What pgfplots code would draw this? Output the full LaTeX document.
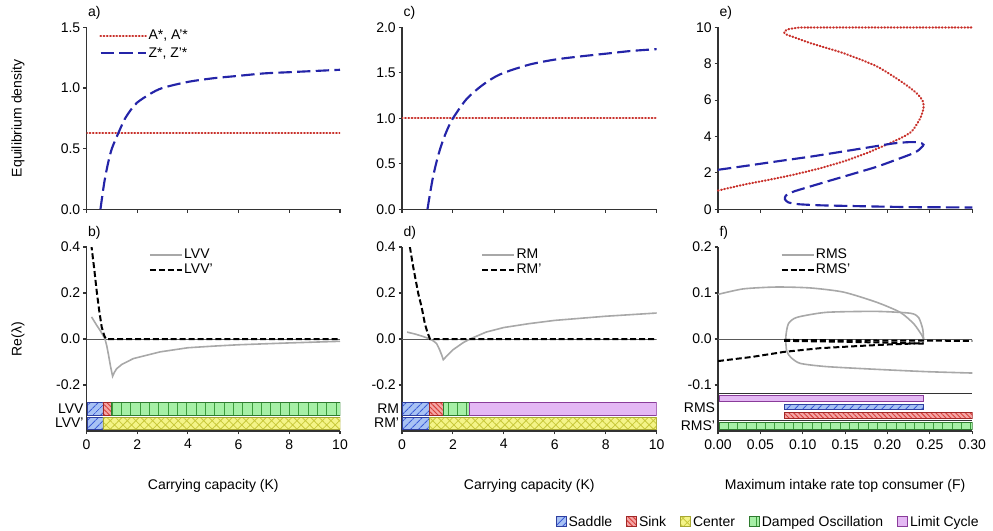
\documentclass[border=0pt]{standalone}
\usepackage{fontspec}
\setmainfont{Liberation Sans}
\usepackage{pgfplots}
\pgfplotsset{compat=1.18}
\usetikzlibrary{patterns.meta}

\definecolor{cSadF}{HTML}{A8C2F4}
\definecolor{cSadL}{HTML}{3F5FD8}
\definecolor{cSadD}{HTML}{2F3F9F}
\definecolor{cSinF}{HTML}{F4A6A6}
\definecolor{cSinL}{HTML}{D8403A}
\definecolor{cSinD}{HTML}{A02828}
\definecolor{cCenF}{HTML}{F4F488}
\definecolor{cCenL}{HTML}{C8C83A}
\definecolor{cCenD}{HTML}{A8A832}
\definecolor{cDamF}{HTML}{A6EFA6}
\definecolor{cDamL}{HTML}{3C9C3C}
\definecolor{cDamD}{HTML}{2E7A2E}
\definecolor{cLimF}{HTML}{E4B8F4}
\definecolor{cLimD}{HTML}{8A3C9A}
\definecolor{cRed}{HTML}{C8302A}
\definecolor{cBlue}{HTML}{2424A8}
\definecolor{cGray}{HTML}{A8A8A8}

\tikzset{
  bsaddle/.style={fill=cSadF, draw=cSadD, line width=0.6pt,
    postaction={pattern={Lines[angle=45,distance=4pt,line width=0.8pt]}, pattern color=cSadL, draw=cSadD, line width=0.6pt}},
  bsink/.style={fill=cSinF, draw=cSinD, line width=0.6pt,
    postaction={pattern={Lines[angle=-45,distance=2.6pt,line width=0.7pt]}, pattern color=cSinL, draw=cSinD, line width=0.6pt}},
  bcenter/.style={fill=cCenF, draw=cCenD, line width=0.6pt,
    postaction={pattern={Hatch[angle=45,distance=4.5pt,line width=0.6pt]}, pattern color=cCenL, draw=cCenD, line width=0.6pt}},
  bdamped/.style={fill=cDamF, draw=cDamD, line width=0.6pt,
    postaction={pattern={Lines[angle=90,distance=7pt,line width=0.6pt]}, pattern color=cDamL, draw=cDamD, line width=0.6pt}},
  blimit/.style={fill=cLimF, draw=cLimD, line width=0.7pt},
  reddot/.style={cRed, line width=1.6pt, line cap=round, dash pattern=on 0.5pt off 1.9pt},
  bluedash/.style={cBlue, line width=1.6pt, dash pattern=on 10pt off 4pt},
  graysolid/.style={cGray, line width=1.2pt},
  blackdash/.style={black, line width=1.5pt, dash pattern=on 4.5pt off 2.2pt},
  zeroline/.style={black!65, line width=0.7pt},
  sepline/.style={black!80, line width=0.6pt},
}

\pgfplotsset{
  panel/.style={
    scale only axis,
    anchor=south west,
    axis x line*=bottom, axis y line*=left,
    axis line style={draw=black!80, line width=0.8pt},
    tick style={draw=black!80, line width=0.8pt},
    tick align=outside,
    major tick length=2.5pt,
    /pgf/number format/assume math mode=true,
    no markers,
    title style={at={(rel axis cs:0,1)}, anchor=south west, inner sep=0pt, yshift=-0.3pt, xshift=1pt},
    every axis y label/.style={at={(axis description cs:-0.27,0.5)}, rotate=90, anchor=center},
    every axis x label/.style={at={(axis description cs:0.5,-0.299)}, anchor=center},
    legend style={draw=none, fill=none, inner sep=0pt, row sep=0pt,
      nodes={inner sep=1pt, text height=7.5pt, text depth=2pt}},
    legend cell align=left,
    yticklabel style={inner xsep=2pt},
  },
  toppanel/.style={panel, height=136.5pt, xticklabels={}},
  botpanel/.style={panel, height=138pt},
  onedec/.style={yticklabel style={/pgf/number format/fixed, /pgf/number format/fixed zerofill, /pgf/number format/precision=1}},
}

\begin{document}
\fontsize{10.5}{12.6}\selectfont
\begin{tikzpicture}[font=\fontsize{10.5}{12.6}\selectfont]
\useasboundingbox (0,0) rectangle (744.75pt,-398.25pt);

% ---------------- a)
\begin{axis}[toppanel, onedec, at={(64.875pt,-156.975pt)}, width=190.125pt,
  xmin=0, xmax=10, ymin=0, ymax=1.5, xtick={0,2,4,6,8,10}, ytick={0,0.5,1,1.5},
  ylabel={Equilibrium density}, title={a)},
  legend style={at={(0.05,1.0)}, anchor=north west, nodes={text height=8pt, text depth=2.5pt, inner sep=1.2pt}},
  legend image code/.code={\draw[#1] (0pt,0pt) -- (34pt,0pt);}]
\addplot[reddot] coordinates {(0,0.627) (10,0.627)};
\addlegendentry{A*, A'*}
\addplot[bluedash, smooth] coordinates {(0.55,0) (0.7,0.22) (0.85,0.38) (1.0,0.50) (1.25,0.625) (1.5,0.74) (1.75,0.82) (2,0.88) (2.5,0.95) (3,1.0) (4,1.05) (5,1.08) (6,1.10) (7,1.12) (8,1.13) (9,1.14) (10,1.15)};
\addlegendentry{Z*, Z'*}
\end{axis}

% ---------------- b)
\begin{axis}[botpanel, onedec, at={(64.875pt,-323.25pt)}, width=190.125pt,
  xmin=0, xmax=10, ymin=-0.4, ymax=0.4, xtick={0,2,4,6,8,10}, ytick={-0.2,0,0.2,0.4},
  extra y ticks={-0.305,-0.366}, extra y tick labels={LVV,LVV'},
  extra y tick style={major tick length=0pt},
  ylabel={Re(λ)}, xlabel={Carrying capacity (K)}, title={b)},
  legend style={at={(0.245,1.0)}, anchor=north west},
  legend image code/.code={\draw[#1] (0pt,0pt) -- (24pt,0pt);}]
\addplot[zeroline, forget plot] coordinates {(0,0) (10,0)};
\addplot[bsaddle, forget plot] coordinates {(0.03,-0.274) (0.65,-0.274) (0.65,-0.334) (0.03,-0.334) (0.03,-0.274)};
\addplot[bsink, forget plot] coordinates {(0.65,-0.274) (1.0,-0.274) (1.0,-0.334) (0.65,-0.334) (0.65,-0.274)};
\addplot[bdamped, forget plot] coordinates {(1.0,-0.274) (10,-0.274) (10,-0.334) (1.0,-0.334) (1.0,-0.274)};
\addplot[bsaddle, forget plot] coordinates {(0.03,-0.340) (0.65,-0.340) (0.65,-0.392) (0.03,-0.392) (0.03,-0.340)};
\addplot[bcenter, forget plot] coordinates {(0.65,-0.340) (10,-0.340) (10,-0.392) (0.65,-0.392) (0.65,-0.340)};
\addplot[graysolid] coordinates {(0.2,0.096) (0.4,0.06) (0.55,0.035) (0.65,0.016) (0.73,0) (0.8,-0.03) (0.86,-0.064) (0.95,-0.12) (1.03,-0.162) (1.1,-0.145) (1.19,-0.129) (1.4,-0.11) (1.85,-0.085) (2.9,-0.056) (4,-0.038) (5,-0.031) (6,-0.025) (8,-0.017) (10,-0.01)};
\addlegendentry{LVV}
\addplot[blackdash] coordinates {(0.15,0.45) (0.2,0.4) (0.31,0.3) (0.4,0.21) (0.5,0.125) (0.6,0.052) (0.7,0.015) (0.77,0) (1.0,-0.001) (10,-0.001)};
\addlegendentry{LVV'}
\end{axis}

% ---------------- c)
\begin{axis}[toppanel, onedec, at={(301.5pt,-156.975pt)}, width=191pt,
  xmin=0, xmax=10, ymin=0, ymax=2, xtick={0,2,4,6,8,10}, ytick={0,0.5,1,1.5,2},
  title={c)}]
\addplot[reddot] coordinates {(0,1) (10,1)};
\addplot[bluedash, smooth] coordinates {(1.0,0) (1.2,0.33) (1.4,0.57) (1.6,0.75) (1.8,0.89) (2,1.0) (2.5,1.2) (3,1.33) (3.5,1.43) (4,1.5) (5,1.59) (6,1.645) (7,1.68) (8,1.71) (9,1.74) (10,1.76)};
\end{axis}

% ---------------- d)
\begin{axis}[botpanel, onedec, at={(301.5pt,-323.25pt)}, width=191pt,
  xmin=0, xmax=10, ymin=-0.4, ymax=0.4, xtick={0,2,4,6,8,10}, ytick={-0.2,0,0.2,0.4},
  extra y ticks={-0.305,-0.366}, extra y tick labels={RM,RM'},
  extra y tick style={major tick length=0pt},
  xlabel={Carrying capacity (K)}, title={d)},
  legend style={at={(0.31,1.0)}, anchor=north west},
  legend image code/.code={\draw[#1] (0pt,0pt) -- (24pt,0pt);}]
\addplot[zeroline, forget plot] coordinates {(0,0) (10,0)};
\addplot[bsaddle, forget plot] coordinates {(0.03,-0.274) (1.07,-0.274) (1.07,-0.334) (0.03,-0.334) (0.03,-0.274)};
\addplot[bsink, forget plot] coordinates {(1.07,-0.274) (1.63,-0.274) (1.63,-0.334) (1.07,-0.334) (1.07,-0.274)};
\addplot[bdamped, forget plot] coordinates {(1.63,-0.274) (2.65,-0.274) (2.65,-0.334) (1.63,-0.334) (1.63,-0.274)};
\addplot[blimit, forget plot] coordinates {(2.65,-0.274) (10,-0.274) (10,-0.334) (2.65,-0.334) (2.65,-0.274)};
\addplot[bsaddle, forget plot] coordinates {(0.03,-0.340) (1.07,-0.340) (1.07,-0.392) (0.03,-0.392) (0.03,-0.340)};
\addplot[bcenter, forget plot] coordinates {(1.07,-0.340) (10,-0.340) (10,-0.392) (1.07,-0.392) (1.07,-0.340)};
\addplot[graysolid] coordinates {(0.2,0.03) (0.5,0.022) (0.8,0.012) (1.0,0.004) (1.1,0) (1.25,-0.01) (1.36,-0.02) (1.47,-0.045) (1.56,-0.07) (1.62,-0.09) (1.68,-0.083) (1.75,-0.075) (2.0,-0.047) (2.4,-0.016) (2.67,0) (3.3,0.03) (4,0.05) (5,0.067) (6,0.081) (7,0.09) (8,0.099) (9,0.106) (10,0.113)};
\addlegendentry{RM}
\addplot[blackdash] coordinates {(0.28,0.44) (0.31,0.4) (0.44,0.313) (0.64,0.197) (0.77,0.139) (0.9,0.066) (1.0,0.028) (1.1,0) (10,0)};
\addlegendentry{RM'}
\end{axis}

% ---------------- e)
\begin{axis}[toppanel, at={(538.5pt,-156.975pt)}, width=190.7pt,
  xmin=0, xmax=0.3, ymin=0, ymax=10, xtick={0,0.05,0.1,0.15,0.2,0.25,0.3}, ytick={0,2,4,6,8,10},
  title={e)}, clip=false,
  legend columns=5,
  legend style={at={(rel axis cs:1.034,-1.721)}, anchor=east,
    nodes={inner xsep=1.5pt, inner ysep=1pt, text height=7.5pt, text depth=2pt},
    /tikz/every even column/.append style={column sep=9pt}},
  legend image code/.code={\draw[#1] (0pt,-3.2pt) rectangle (7.5pt,4.3pt);}]
\addplot[reddot, smooth, tension=0.4, forget plot] coordinates {(0,1.03) (0.03,1.35) (0.06,1.62) (0.089,1.9) (0.12,2.25) (0.148,2.63) (0.175,3.08) (0.203,3.64) (0.218,3.97) (0.229,4.3) (0.2386,5.0) (0.2425,5.56) (0.2415,5.95) (0.235,6.35) (0.219,6.93) (0.1875,7.85) (0.148,8.58) (0.109,9.13) (0.09,9.45) (0.08,9.62) (0.078,9.74) (0.082,9.88) (0.092,9.96) (0.11,9.99) (0.3,9.99)};
\addplot[bluedash, smooth, tension=0.4, forget plot] coordinates {(0,2.17) (0.035,2.4) (0.069,2.63) (0.11,2.9) (0.148,3.18) (0.18,3.42) (0.207,3.62) (0.225,3.69) (0.237,3.68) (0.2425,3.55) (0.238,3.3) (0.231,3.09) (0.21,2.72) (0.1875,2.34) (0.158,1.93) (0.128,1.52) (0.105,1.2) (0.089,0.97) (0.08,0.75) (0.079,0.55) (0.083,0.38) (0.095,0.28) (0.12,0.22) (0.148,0.19) (0.19,0.15) (0.227,0.12) (0.26,0.11) (0.3,0.1)};
\addlegendimage{bsaddle}\addlegendentry{Saddle}
\addlegendimage{bsink}\addlegendentry{Sink}
\addlegendimage{bcenter}\addlegendentry{Center}
\addlegendimage{bdamped}\addlegendentry{Damped Oscillation}
\addlegendimage{blimit}\addlegendentry{Limit Cycle}
\end{axis}

% ---------------- f)
\begin{axis}[botpanel, onedec, at={(538.5pt,-323.25pt)}, width=190.7pt,
  xmin=0, xmax=0.3, ymin=-0.2, ymax=0.2, xtick={0,0.05,0.1,0.15,0.2,0.25,0.3}, ytick={-0.1,0,0.1,0.2},
  xticklabel style={/pgf/number format/fixed, /pgf/number format/fixed zerofill, /pgf/number format/precision=2},
  extra y ticks={-0.15,-0.1875}, extra y tick labels={RMS,RMS'},
  extra y tick style={major tick length=0pt},
  xlabel={Maximum intake rate top consumer (F)}, title={f)},
  legend style={at={(0.245,1.0)}, anchor=north west},
  legend image code/.code={\draw[#1] (0pt,0pt) -- (24pt,0pt);}]
\addplot[zeroline, forget plot] coordinates {(0,0) (0.3,0)};
\addplot[sepline, forget plot] coordinates {(0,-0.118) (0.3,-0.118)};
\addplot[sepline, forget plot] coordinates {(0,-0.177) (0.3,-0.177)};
\addplot[blimit, forget plot] coordinates {(0.002,-0.122) (0.2425,-0.122) (0.2425,-0.135) (0.002,-0.135) (0.002,-0.122)};
\addplot[bsaddle, forget plot] coordinates {(0.078,-0.142) (0.2425,-0.142) (0.2425,-0.153) (0.078,-0.153) (0.078,-0.142)};
\addplot[bsink, forget plot] coordinates {(0.078,-0.159) (0.3,-0.159) (0.3,-0.173) (0.078,-0.173) (0.078,-0.159)};
\addplot[bdamped, forget plot] coordinates {(0.002,-0.181) (0.3,-0.181) (0.3,-0.196) (0.002,-0.196) (0.002,-0.181)};
\addplot[graysolid, smooth, tension=0.4] coordinates {(0,0.097) (0.03,0.109) (0.069,0.113) (0.109,0.111) (0.148,0.102) (0.187,0.08) (0.215,0.058) (0.231,0.033) (0.2406,0.008) (0.2425,0.0)};
\addlegendentry{RMS}
\addplot[blackdash] coordinates {(0,-0.048) (0.04,-0.039) (0.078,-0.028) (0.12,-0.02) (0.168,-0.015) (0.2,-0.012) (0.2425,-0.009)};
\addlegendentry{RMS'}
\addplot[graysolid, smooth, tension=0.4, forget plot] coordinates {(0.2425,0.0) (0.2415,0.022) (0.2366,0.047) (0.227,0.056) (0.187,0.06) (0.128,0.058) (0.093,0.047) (0.083,0.033) (0.080,0.004) (0.081,-0.026) (0.086,-0.04) (0.097,-0.053) (0.128,-0.06) (0.1875,-0.066) (0.2465,-0.071) (0.3,-0.074)};
\addplot[blackdash, forget plot] coordinates {(0.078,-0.004) (0.15,-0.006) (0.2,-0.008) (0.2425,-0.01)};
\addplot[blackdash, forget plot] coordinates {(0.078,-0.002) (0.15,-0.003) (0.3,-0.004)};
\end{axis}
\end{tikzpicture}
\end{document}
